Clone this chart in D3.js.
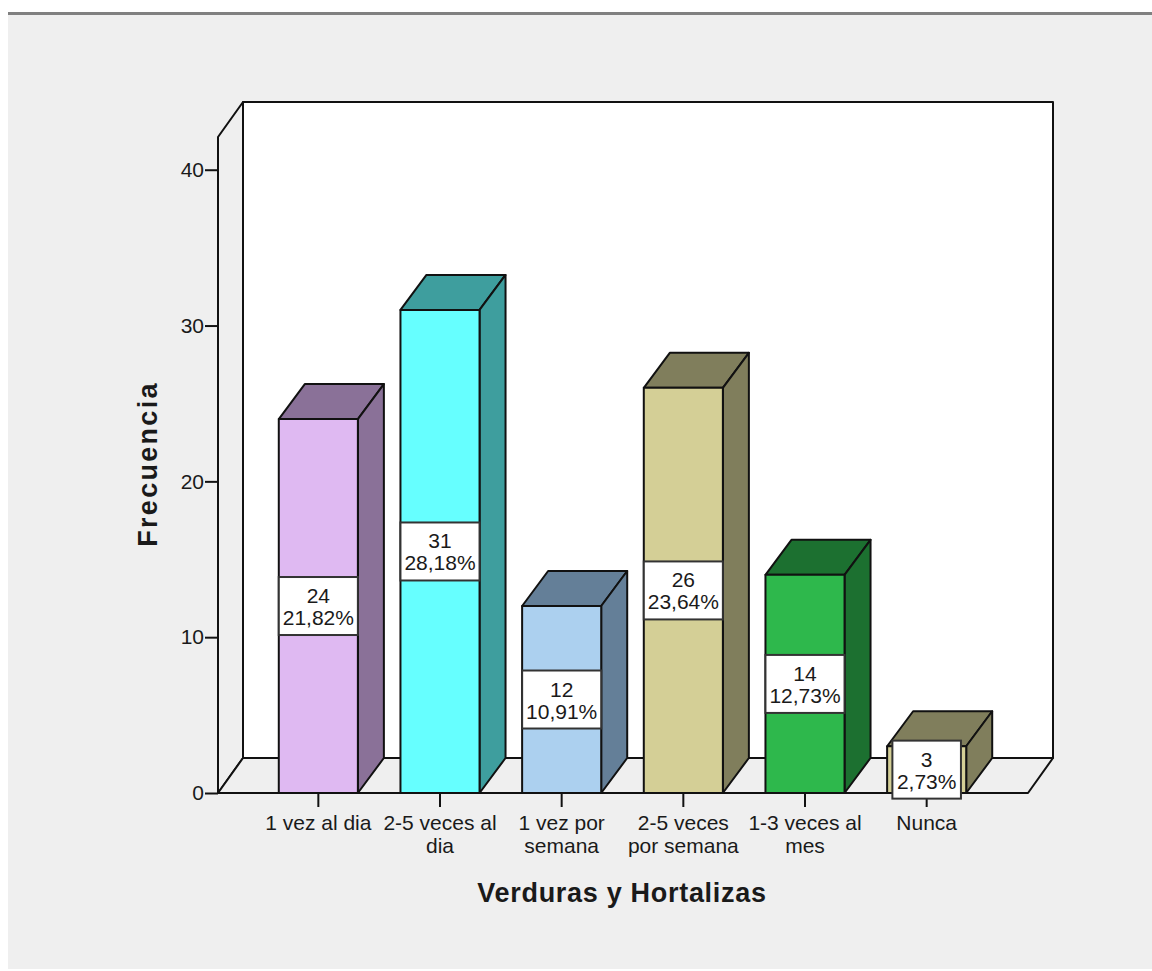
<!DOCTYPE html>
<html>
<head>
<meta charset="utf-8">
<script src="https://cdnjs.cloudflare.com/ajax/libs/d3/7.8.5/d3.min.js"></script>
<style>
html,body{margin:0;padding:0;background:#fff;overflow:hidden}
svg{display:block}
text{font-family:"Liberation Sans",Arial,sans-serif;fill:#1a1a1a}
</style>
</head>
<body>
<svg id="chart" width="1152" height="971"></svg>
<script>
// Frequency of vegetable consumption
const categories = ["1 vez al dia", "2-5 veces al dia", "1 vez por semana", "2-5 veces por semana", "1-3 veces al mes", "Nunca"];
const categoryLines = [["1 vez al dia"], ["2-5 veces al", "dia"], ["1 vez por", "semana"], ["2-5 veces", "por semana"], ["1-3 veces al", "mes"], ["Nunca"]];
const frequencies = [24, 31, 12, 26, 14, 3];
const percentLabels = ["21,82%", "28,18%", "10,91%", "23,64%", "12,73%", "2,73%"];
const frontColors = ["#dfb9f2", "#66ffff", "#acd0ef", "#d4cf96", "#2eb84c", "#d4cf96"];
const shadeColors = ["#8a7198", "#3e9e9e", "#647f98", "#807e5c", "#1c7030", "#807e5c"];
const yTicks = [0, 10, 20, 30, 40];
const yMax = 42.1;

const INK = "#111";
const depth = {dx: 25, dy: -35};
const barDepth = {dx: 26, dy: -35};
const plot = {left: 218, right: 1028, bottom: 793, top: 137};
const labelFont = 21;

const svg = d3.select("#chart");
const x = d3.scaleBand().domain(categories).range([257.5, 987.5]).paddingInner(0.35).paddingOuter(0.175);
const y = d3.scaleLinear().domain([0, yMax]).range([plot.bottom, plot.top]);

// Panel background and top rule
svg.append("rect").attr("x", 8).attr("y", 13).attr("width", 1144).attr("height", 956).attr("fill", "#efefef");
svg.append("rect").attr("x", 8).attr("y", 12).attr("width", 1144).attr("height", 3).attr("fill", "#808080");

const poly = pts => pts.map(p => p.join(",")).join(" ");
const chamber = svg.append("g").attr("stroke", INK).attr("stroke-width", 2).attr("stroke-linejoin", "round");

// Back wall, side wall and floor of the 3D box
chamber.append("rect")
  .attr("x", plot.left + depth.dx).attr("y", plot.top + depth.dy)
  .attr("width", plot.right - plot.left).attr("height", plot.bottom - plot.top)
  .attr("fill", "#fff");
chamber.append("polygon").attr("fill", "#efefef").attr("points", poly([
  [plot.left, plot.bottom], [plot.left, plot.top],
  [plot.left + depth.dx, plot.top + depth.dy], [plot.left + depth.dx, plot.bottom + depth.dy]]));
chamber.append("polygon").attr("fill", "#efefef").attr("points", poly([
  [plot.left, plot.bottom], [plot.left + depth.dx, plot.bottom + depth.dy],
  [plot.right + depth.dx, plot.bottom + depth.dy], [plot.right, plot.bottom]]));

// Axes
const yAxis = svg.append("g").attr("transform", `translate(${plot.left},0)`)
  .call(d3.axisLeft(y).tickValues(yTicks).tickSize(13).tickPadding(1).tickFormat(d3.format("d")));
const xAxis = svg.append("g").attr("transform", `translate(0,${plot.bottom})`)
  .call(d3.axisBottom(x).tickSize(14).tickFormat(""));
[yAxis, xAxis].forEach(a => {
  a.select(".domain").remove();
  a.selectAll(".tick line").attr("stroke", INK).attr("stroke-width", 2);
});
yAxis.selectAll(".tick text").attr("font-size", labelFont).attr("font-family", "Liberation Sans").attr("fill", "#1a1a1a");

// Bars: front, top and side faces
const bars = svg.append("g").selectAll("g").data(categories).join("g")
  .attr("stroke", INK).attr("stroke-width", 2).attr("stroke-linejoin", "round");
bars.append("polygon").attr("fill", (d, i) => shadeColors[i]).attr("points", (d, i) => {
  const l = x(d), r = l + x.bandwidth(), t = y(frequencies[i]);
  return poly([[l, t], [l + barDepth.dx, t + barDepth.dy], [r + barDepth.dx, t + barDepth.dy], [r, t]]);
});
bars.append("polygon").attr("fill", (d, i) => shadeColors[i]).attr("points", (d, i) => {
  const r = x(d) + x.bandwidth(), t = y(frequencies[i]), b = y(0);
  return poly([[r, t], [r + barDepth.dx, t + barDepth.dy], [r + barDepth.dx, b + barDepth.dy], [r, b]]);
});
bars.append("rect").attr("fill", (d, i) => frontColors[i])
  .attr("x", d => x(d)).attr("width", x.bandwidth())
  .attr("y", (d, i) => y(frequencies[i])).attr("height", (d, i) => y(0) - y(frequencies[i]));

// Value labels on white boxes, centred on each bar
const labels = svg.append("g").selectAll("g").data(categories).join("g")
  .attr("transform", (d, i) => `translate(${x(d) + x.bandwidth() / 2},${y(frequencies[i] / 2)})`);
const labelBoxes = labels.append("rect").attr("fill", "#fff").attr("stroke", "#333").attr("stroke-width", 2);
const labelTexts = labels.append("text").attr("text-anchor", "middle").attr("font-size", labelFont);
labelTexts.append("tspan").attr("x", 0).attr("y", -3).text((d, i) => frequencies[i]);
labelTexts.append("tspan").attr("x", 0).attr("y", 19).text((d, i) => percentLabels[i]);
labelBoxes.each(function (d, i) {
  const w = Math.min(labelTexts.nodes()[i].getBBox().width + 9, x.bandwidth());
  d3.select(this).attr("x", -w / 2).attr("width", w).attr("y", -29).attr("height", 58);
});

// Category labels
const catText = svg.append("g").selectAll("text").data(categories).join("text")
  .attr("text-anchor", "middle").attr("font-size", labelFont);
catText.each(function (d, i) {
  const cx = x(d) + x.bandwidth() / 2;
  d3.select(this).selectAll("tspan").data(categoryLines[i]).join("tspan")
    .attr("x", cx).attr("y", (l, j) => 830 + j * 23).text(l => l);
});

// Axis titles
svg.append("text").attr("x", 622).attr("y", 902).attr("text-anchor", "middle")
  .attr("font-size", 27).attr("font-weight", "bold").attr("letter-spacing", 0.7).text("Verduras y Hortalizas");
svg.append("text").attr("transform", "translate(157,464) rotate(-90)").attr("text-anchor", "middle")
  .attr("font-size", 27).attr("font-weight", "bold").attr("letter-spacing", 2.3).text("Frecuencia");
</script>
</body>
</html>
